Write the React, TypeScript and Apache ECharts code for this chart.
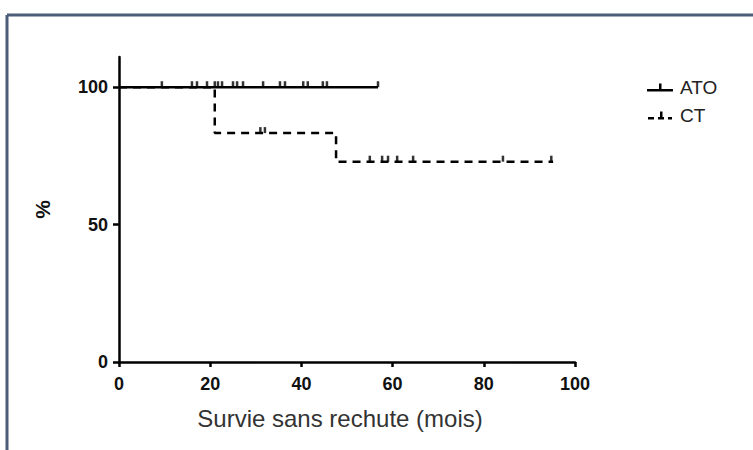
import React, { useEffect, useRef } from "react";
import * as echarts from "echarts";

// Data (months, survival %)
const atoSurvival = [100, 100];
const atoTimes = [0, 56.8];
const atoCensored = [9.4, 16, 17.1, 19.3, 21, 21.7, 22.6, 25, 25.9, 27.2, 31.6, 35.3, 36.4, 40.4, 41.4, 44.7, 45.6, 56.8];

const ctEventTimes = [0, 21, 47.6];
const ctSurvival = [100, 83.3, 72.9];
const ctEnd = 95.2;
const ctCensored = [31, 32, 55, 57.7, 59, 61, 64.5, 84.2, 94.8];

const xTicks = [0, 20, 40, 60, 80, 100];
const yTicks = [0, 50, 100];

function survivalAt(times: number[], surv: number[], t: number) {
  let s = surv[0];
  for (let i = 0; i < times.length; i++) if (t >= times[i]) s = surv[i];
  return s;
}

const FONT = "'Liberation Sans', Arial, sans-serif";
const ATO_ICON = "path://M0,5.5 H26 V8 H0 Z M12,0 H14.5 V8 H12 Z";
const CT_ICON = "path://M0,5.5 H6 V8 H0 Z M10,5.5 H16 V8 H10 Z M12,0 H14.5 V8 H12 Z M20,5.5 H24 V8 H20 Z";

export default function App() {
  const ref = useRef<HTMLDivElement>(null);
  useEffect(() => {
    if (!ref.current) return;
    const chart = echarts.init(ref.current, null, { renderer: "svg" });
    const ctLine: number[][] = ctEventTimes.map((t, i) => [t, ctSurvival[i]]);
    ctLine.push([ctEnd, ctSurvival[ctSurvival.length - 1]]);
    const atoLine = atoTimes.map((t, i) => [t, atoSurvival[i]]);
    const censorSym = {
      type: "scatter",
      symbol: "rect",
      symbolSize: [2.5, 6],
      symbolOffset: [0, -3],
      itemStyle: { color: "#000" },
      silent: true,
      z: 3,
    };
    chart.setOption({
      animation: false,
      backgroundColor: "#fff",
      grid: { left: 119, right: 178, top: 57, bottom: 88 },
      legend: {
        orient: "vertical",
        left: 642,
        top: 73,
        itemWidth: 26,
        itemHeight: 8,
        itemGap: 9,
        data: [
          { name: "ATO", icon: ATO_ICON },
          { name: "CT", icon: CT_ICON },
        ],
        textStyle: { fontFamily: FONT, fontSize: 19, color: "#222", padding: [0, 0, 0, 2] },
      },
      xAxis: {
        type: "value",
        min: 0,
        max: 100,
        interval: 20,
        splitLine: { show: false },
        axisLine: { lineStyle: { color: "#000", width: 2.5 } },
        axisTick: { length: 5, lineStyle: { color: "#000", width: 2.5 } },
        axisLabel: {
          margin: 13,
          fontFamily: FONT,
          fontSize: 18,
          fontWeight: "bold",
          color: "#111",
          formatter: (v: number) => (xTicks.includes(v) ? String(v) : ""),
        },
        name: "Survie sans rechute (mois)",
        nameLocation: "middle",
        nameGap: 44,
        nameTextStyle: { fontFamily: FONT, fontSize: 24, color: "#333", padding: [0, 14, 0, 0] },
      },
      yAxis: {
        type: "value",
        min: 0,
        max: 111,
        interval: 50,
        splitLine: { show: false },
        axisLine: { lineStyle: { color: "#000", width: 2.5 } },
        axisTick: { length: 6, customValues: yTicks, lineStyle: { color: "#000", width: 2.5 } },
        axisLabel: {
          margin: 11,
          customValues: yTicks,
          fontFamily: FONT,
          fontSize: 18,
          fontWeight: "bold",
          color: "#111",
          formatter: (v: number) => (yTicks.includes(v) ? String(v) : ""),
        },
        name: "%",
        nameLocation: "middle",
        nameGap: 66,
        nameRotate: 90,
        nameTextStyle: { fontFamily: FONT, fontSize: 21, fontWeight: "bold", color: "#111" },
      },
      graphic: [
        { type: "line", shape: { x1: 7, y1: 15, x2: 753, y2: 15 }, style: { stroke: "#4c5d78", lineWidth: 3 } },
        { type: "line", shape: { x1: 7, y1: 15, x2: 7, y2: 450 }, style: { stroke: "#4c5d78", lineWidth: 3 } },
      ],
      series: [
        {
          name: "ATO",
          type: "line",
          step: "end",
          data: atoLine,
          symbol: "none",
          lineStyle: { color: "#000", width: 2.5, type: "solid" },
          itemStyle: { color: "#000" },
          z: 2,
        },
        {
          name: "CT",
          type: "line",
          step: "end",
          data: ctLine,
          symbol: "none",
          lineStyle: { color: "#000", width: 2.5, type: [8, 6] },
          itemStyle: { color: "#000" },
          z: 2,
        },
        {
          ...censorSym,
          name: "ATO censored",
          data: atoCensored.map((t) => [t, survivalAt(atoTimes, atoSurvival, t)]),
        },
        {
          ...censorSym,
          name: "CT censored",
          data: ctCensored.map((t) => [t, survivalAt(ctEventTimes, ctSurvival, t)]),
        },
      ],
    });
    return () => chart.dispose();
  }, []);
  return (
    <div
      ref={ref}
      style={{ position: "fixed", left: 0, top: 0, width: 753, height: 450 }}
    />
  );
}
